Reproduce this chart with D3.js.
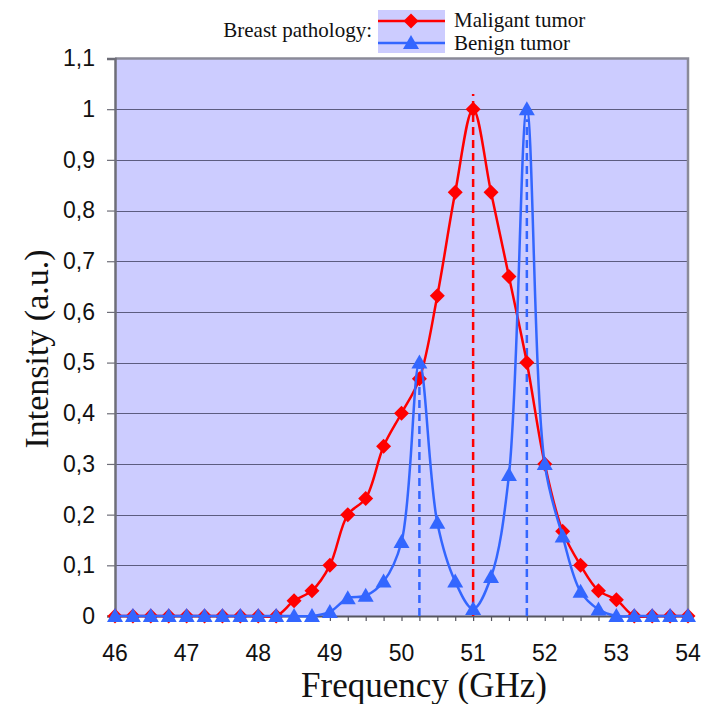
<!DOCTYPE html>
<html>
<head>
<meta charset="utf-8">
<script src="https://cdn.jsdelivr.net/npm/d3@7"></script>
<style>
  html, body { margin: 0; padding: 0; background: #ffffff; }
  svg { display: block; }
</style>
</head>
<body>
<svg id="chart" width="711" height="704"></svg>
<script>
// ---------------- data ----------------
const frequency = [46, 46.25, 46.5, 46.75, 47, 47.25, 47.5, 47.75, 48, 48.25,
  48.5, 48.75, 49, 49.25, 49.5, 49.75, 50, 50.25, 50.5, 50.75, 51, 51.25,
  51.5, 51.75, 52, 52.25, 52.5, 52.75, 53, 53.25, 53.5, 53.75, 54];
const maligant = [0, 0, 0, 0, 0, 0, 0, 0, 0, 0,
  0.03, 0.05, 0.10, 0.20, 0.232, 0.335, 0.40, 0.468, 0.632, 0.836, 1.0, 0.836,
  0.67, 0.50, 0.30, 0.167, 0.10, 0.05, 0.032, 0, 0, 0, 0];
const benign = [0, 0, 0, 0, 0, 0, 0, 0, 0, 0,
  0, 0, 0.008, 0.035, 0.04, 0.068, 0.146, 0.50, 0.184, 0.068, 0.014, 0.077,
  0.278, 1.0, 0.30, 0.157, 0.048, 0.013, 0, 0, 0, 0, 0];
const maligantPeaks = [{ f: 51, top: 1.03 }];
const benignPeaks = [{ f: 50.25, top: 0.5 }, { f: 51.75, top: 0.98 }];
const xTicks = [46, 47, 48, 49, 50, 51, 52, 53, 54];
const xMinorTicks = frequency;
const yTicks = [0, 0.1, 0.2, 0.3, 0.4, 0.5, 0.6, 0.7, 0.8, 0.9, 1.0, 1.1];
const yTickLabels = ["0", "0,1", "0,2", "0,3", "0,4", "0,5", "0,6", "0,7", "0,8", "0,9", "1", "1,1"];
const seriesNames = ["Maligant tumor", "Benign tumor"];
const legendTitle = "Breast pathology:";
const xTitle = "Frequency (GHz)";
const yTitle = "Intensity (a.u.)";

// ---------------- layout ----------------
const svg = d3.select("#chart");
const pLeft = 115, pRight = 688, pTop = 58.5, pBottom = 616;
const x = d3.scaleLinear().domain([46, 54]).range([pLeft, pRight]);
const y = d3.scaleLinear().domain([0, 1.1]).range([pBottom, pTop]);

const RED = "#ff0000", BLUE = "#3366ff", BG = "#ccccff";
const serif = "'Liberation Serif', 'Times New Roman', serif";
const sans = "'Liberation Sans', Arial, sans-serif";

svg.append("rect").attr("width", 711).attr("height", 704).attr("fill", "#fff");

// plot background
svg.append("rect")
  .attr("x", pLeft).attr("y", pTop)
  .attr("width", pRight - pLeft).attr("height", pBottom - pTop)
  .attr("fill", BG);

// gridlines
svg.append("g").selectAll("line")
  .data(yTicks.filter(d => d > 0 && d < 1.1))
  .join("line")
  .attr("x1", pLeft).attr("x2", pRight)
  .attr("y1", d => Math.round(y(d)) + 0.5).attr("y2", d => Math.round(y(d)) + 0.5)
  .attr("stroke", "#5c5c80").attr("stroke-width", 1.2);

// frame: top & right border
svg.append("path")
  .attr("d", `M${pLeft},${pTop}H${pRight}V${pBottom}`)
  .attr("fill", "none").attr("stroke", "#8a8a98").attr("stroke-width", 2.5);

// y axis
const yAxis = d3.axisLeft(y).tickValues(yTicks)
  .tickFormat((d, i) => yTickLabels[i]).tickSize(8).tickPadding(12);
const gy = svg.append("g").attr("transform", `translate(${pLeft},0)`).call(yAxis);
gy.select(".domain").attr("stroke", "#6e6e78").attr("stroke-width", 2.5);
gy.selectAll(".tick line").attr("stroke", "#6e6e78").attr("stroke-width", 1.2);
gy.selectAll("text").attr("font-family", sans).attr("font-size", 23).attr("fill", "#111");

// x axis
const xAxis = d3.axisBottom(x).tickValues(xMinorTicks)
  .tickFormat("").tickSize(5).tickSizeOuter(0);
const gx = svg.append("g").attr("transform", `translate(0,${pBottom})`).call(xAxis);
gx.select(".domain").attr("stroke", "#555560").attr("stroke-width", 2);
gx.selectAll(".tick line").attr("stroke", "#555560").attr("stroke-width", 1.2);
svg.append("g").selectAll("text")
  .data(xTicks).join("text")
  .attr("x", d => x(d)).attr("y", 661)
  .attr("text-anchor", "middle")
  .attr("font-family", sans).attr("font-size", 23).attr("fill", "#111")
  .text(d => d);

// dashed peak markers
svg.append("g").selectAll("line").data(maligantPeaks).join("line")
  .attr("x1", d => x(d.f)).attr("x2", d => x(d.f))
  .attr("y1", y(0)).attr("y2", d => y(d.top))
  .attr("stroke", RED).attr("stroke-width", 2.5).attr("stroke-dasharray", "8,5");
svg.append("g").selectAll("line").data(benignPeaks).join("line")
  .attr("x1", d => x(d.f)).attr("x2", d => x(d.f))
  .attr("y1", y(0)).attr("y2", d => y(d.top))
  .attr("stroke", BLUE).attr("stroke-width", 2.5).attr("stroke-dasharray", "8,5");

// markers
const diamondPath = "M0,-7.5L7.5,0L0,7.5L-7.5,0Z";
const trianglePath = "M0,-8L8,6L-8,6Z";

const line = d3.line().x(d => x(d[0])).y(d => y(d[1])).curve(d3.curveCatmullRom.alpha(0.5));

function drawSeries(values, color, markerPath) {
  const pts = frequency.map((f, i) => [f, values[i]]);
  const g = svg.append("g");
  g.append("path").datum(pts)
    .attr("d", line).attr("fill", "none")
    .attr("stroke", color).attr("stroke-width", 2.5);
  g.selectAll("path.m").data(pts).join("path").attr("class", "m")
    .attr("d", markerPath)
    .attr("transform", d => `translate(${x(d[0])},${y(d[1])})`)
    .attr("fill", color);
}
drawSeries(maligant, RED, diamondPath);
drawSeries(benign, BLUE, trianglePath);

// axis titles
svg.append("text")
  .attr("x", 424).attr("y", 697)
  .attr("text-anchor", "middle")
  .attr("font-family", serif).attr("font-size", 35).attr("fill", "#111")
  .text(xTitle);
svg.append("text")
  .attr("transform", "translate(48,349) rotate(-90)")
  .attr("text-anchor", "middle")
  .attr("font-family", serif).attr("font-size", 34).attr("fill", "#111")
  .text(yTitle);

// legend
svg.append("text")
  .attr("x", 372).attr("y", 37).attr("text-anchor", "end")
  .attr("font-family", serif).attr("font-size", 21).attr("fill", "#111")
  .text(legendTitle);
svg.append("rect")
  .attr("x", 378).attr("y", 10).attr("width", 67).attr("height", 43)
  .attr("fill", BG);
const legendItems = [
  { name: seriesNames[0], color: RED, path: diamondPath, ly: 21, ty: 27 },
  { name: seriesNames[1], color: BLUE, path: trianglePath, ly: 43, ty: 50 }
];
const lg = svg.append("g").selectAll("g").data(legendItems).join("g");
lg.append("line")
  .attr("x1", 378).attr("x2", 445)
  .attr("y1", d => d.ly).attr("y2", d => d.ly)
  .attr("stroke", d => d.color).attr("stroke-width", 2.5);
lg.append("path")
  .attr("d", d => d.path)
  .attr("transform", d => `translate(411,${d.ly})`)
  .attr("fill", d => d.color);
lg.append("text")
  .attr("x", 454).attr("y", d => d.ty)
  .attr("font-family", serif).attr("font-size", 21).attr("fill", "#111")
  .text(d => d.name);
</script>
</body>
</html>
